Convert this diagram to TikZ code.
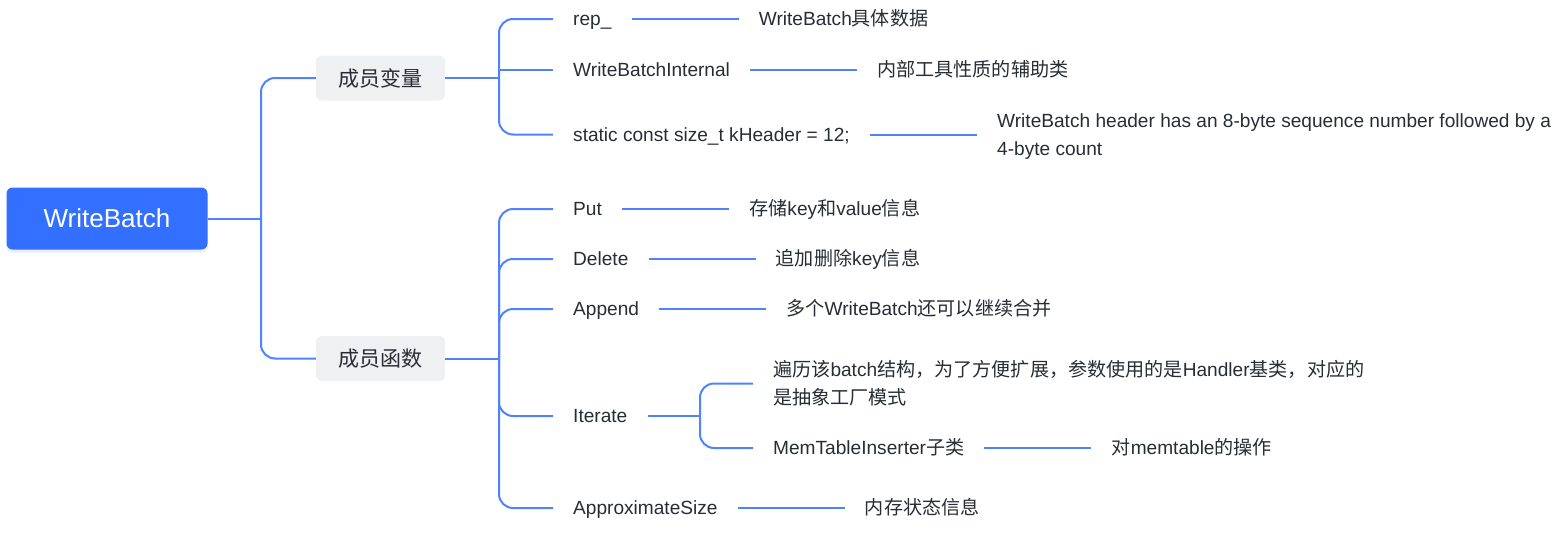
\documentclass[tikz,border=0pt]{standalone}
\usepackage{fontspec}
\setmainfont{Liberation Sans}
\newfontfamily\cjk{Noto Sans CJK SC}
\newcommand\zh[1]{{\cjk #1}}
\usetikzlibrary{positioning,shadows}
\definecolor{rootblue}{RGB}{51,112,255}
\definecolor{linkblue}{RGB}{78,131,253}
\definecolor{boxgray}{RGB}{239,240,241}
\definecolor{textgray}{RGB}{40,44,52}
\begin{document}
\begin{tikzpicture}[x=1pt,y=-1pt]
\tikzstyle{root node}=[rectangle,rounded corners=6pt,fill=rootblue,text=white,minimum width=201pt,minimum height=62pt,font=\fontsize{26}{30}\selectfont,drop shadow={opacity=0.12,shadow xshift=0pt,shadow yshift=-3pt,fill=rootblue}]
\tikzstyle{group node}=[rectangle,rounded corners=6pt,fill=boxgray,text=textgray,minimum width=129pt,minimum height=45pt,font=\fontsize{21}{26}\selectfont]
\tikzset{
	leaf node/.style={inner xsep=20pt,inner ysep=2pt,text=textgray,font=\fontsize{19.1}{28}\selectfont,text height=18pt,text depth=4.4pt},
	para node/.style={inner xsep=20pt,inner ysep=2pt,text=textgray,font=\fontsize{19.1}{28}\selectfont,align=left},
	link/.style={draw=linkblue,line width=2pt,rounded corners=14pt}
}
\useasboundingbox (0,0) rectangle (1558,546);
\node[root node] (wb) at (107,218.5) {WriteBatch};
\node[group node] (var) at (380.5,78) {\zh{成员变量}};
\node[group node] (func) at (380.5,358.5) {\zh{成员函数}};
\coordinate (jr) at (261,218.5);
\coordinate (jv) at (499,78);
\coordinate (jf) at (499,358.5);
\coordinate (ji) at (700,416);
% member variables
\node[leaf node,anchor=west] (rep) at (553,19) {rep\_};
\node[leaf node,anchor=west] (wbi) at (553,70) {WriteBatchInternal};
\node[leaf node,anchor=west] (hdr) at (553,134.5) {static const size\_t kHeader = 12;};
\node[leaf node,right=107pt of rep] (repd) {WriteBatch\zh{具体数据}};
\node[leaf node,right=107pt of wbi] (wbid) {\zh{内部工具性质的辅助类}};
\node[para node,anchor=west] (hdrd) at ([xshift=107pt]hdr.east |- 0,136.5) {WriteBatch header has an 8-byte sequence number followed by a\\4-byte count};
% member functions
\node[leaf node,anchor=west] (put) at (553,209) {Put};
\node[leaf node,anchor=west] (del) at (553,259) {Delete};
\node[leaf node,anchor=west] (app) at (553,309) {Append};
\node[leaf node,anchor=west] (iter) at (553,416) {Iterate};
\node[leaf node,anchor=west] (approx) at (553,508) {ApproximateSize};
\node[leaf node,right=107pt of put] (putd) {\zh{存储}key\zh{和}value\zh{信息}};
\node[leaf node,right=107pt of del] (deld) {\zh{追加删除}key\zh{信息}};
\node[leaf node,right=107pt of app] (appd) {\zh{多个}WriteBatch\zh{还可以继续合并}};
\node[para node,anchor=west] (iterd) at (753,383.5) {\zh{遍历该}batch\zh{结构，为了方便扩展，参数使用的是}Handler\zh{基类，对应的}\\\zh{是抽象工厂模式}};
\node[leaf node,anchor=west] (mti) at (753,448) {MemTableInserter\zh{子类}};
\node[leaf node,right=107pt of mti] (mtid) {\zh{对}memtable\zh{的操作}};
\node[leaf node,right=107pt of approx] (approxd) {\zh{内存状态信息}};
% connectors
\draw[link] (wb.east) -- (jr);
\draw[link] (var.west) -| (jr) |- (func.west);
\draw[link] (var.east) -- (jv);
\draw[link] (rep.west) -| (jv) |- (hdr.west);
\draw[link] (jv |- wbi.west) -- (wbi.west);
\draw[link] (func.east) -- (jf);
\draw[link] (put.west) -| (jf) |- (approx.west);
\foreach \n in {del,app,iter}
	\draw[link] (jf) |- (\n.west);
\draw[link] (iter.east) -- (ji);
\draw[link] (iterd.west) -| (ji) |- (mti.west);
\draw[link] (hdr.east) -- (hdr.east -| hdrd.west);
\foreach \a/\b in {rep/repd,wbi/wbid,put/putd,del/deld,app/appd,mti/mtid,approx/approxd}
	\draw[link] (\a.east) -- (\b.west);
\end{tikzpicture}
\end{document}
